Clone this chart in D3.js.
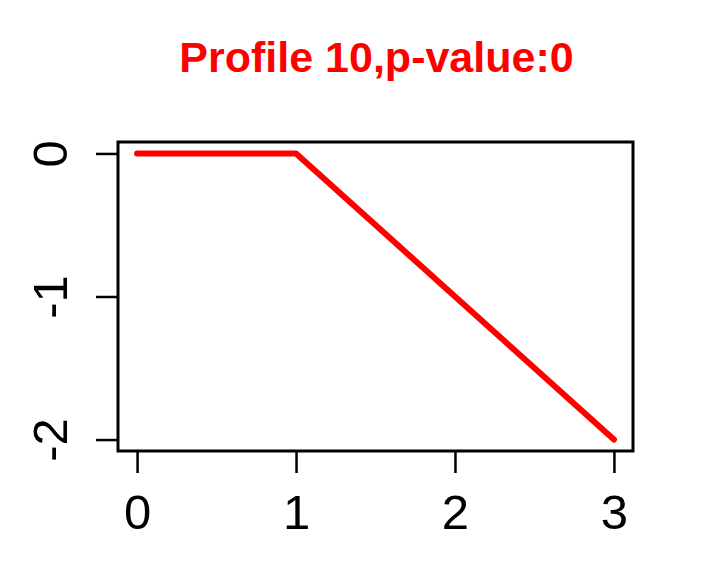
<!DOCTYPE html>
<html>
<head>
<meta charset="utf-8">
<script src="https://cdn.jsdelivr.net/npm/d3@7/dist/d3.min.js"></script>
<style>
  html, body { margin: 0; padding: 0; background: #ffffff; }
  svg { display: block; }
</style>
</head>
<body>
<script>
const titleText = "Profile 10,p-value:0";
const xValues = [0, 1, 2, 3];
const yValues = [0, 0, -1, -2];
const xTicks = [0, 1, 2, 3];
const yTicks = [0, -1, -2];

const W = 725, H = 567;
const box = { left: 118, right: 633, top: 142, bottom: 451 };

const svg = d3.select("body").append("svg")
  .attr("width", W).attr("height", H);

// R-style 4% padding of the data range
const xr = [0, 3], yr = [-2, 0];
const xpad = (xr[1] - xr[0]) * 0.04, ypad = (yr[1] - yr[0]) * 0.04;
const x = d3.scaleLinear().domain([xr[0] - xpad, xr[1] + xpad]).range([box.left, box.right]);
const y = d3.scaleLinear().domain([yr[0] - ypad, yr[1] + ypad]).range([box.bottom, box.top]);

const fmt = d => String(d);

// Title
svg.append("text")
  .attr("x", (box.left + box.right) / 2 + 1)
  .attr("y", 72)
  .attr("text-anchor", "middle")
  .attr("font-family", "Liberation Sans, Arial, Helvetica, sans-serif")
  .attr("font-weight", "bold")
  .attr("font-size", 43)
  .attr("fill", "#ff0000")
  .text(titleText);

// Line
const line = d3.line().x((d, i) => x(xValues[i])).y(d => y(d));
svg.append("path")
  .datum(yValues)
  .attr("d", line)
  .attr("fill", "none")
  .attr("stroke", "#ff0000")
  .attr("stroke-width", 6)
  .attr("stroke-linecap", "round")
  .attr("stroke-linejoin", "round");

// Box
svg.append("rect")
  .attr("x", box.left).attr("y", box.top)
  .attr("width", box.right - box.left).attr("height", box.bottom - box.top)
  .attr("fill", "none")
  .attr("stroke", "#000")
  .attr("stroke-width", 3);

// X axis
const xAxis = d3.axisBottom(x).tickValues(xTicks).tickSize(22).tickPadding(0).tickFormat(fmt);
const gx = svg.append("g").attr("transform", `translate(0,${box.bottom})`).call(xAxis);
gx.select(".domain").remove();
gx.selectAll(".tick line").attr("stroke", "#000").attr("stroke-width", 2.5);
gx.selectAll(".tick text")
  .attr("y", 78).attr("dy", null)
  .attr("font-family", "Liberation Sans, Arial, Helvetica, sans-serif")
  .attr("font-size", 49)
  .attr("fill", "#000");

// Y axis
const yAxis = d3.axisLeft(y).tickValues(yTicks).tickSize(22).tickPadding(0).tickFormat(fmt);
const gy = svg.append("g").attr("transform", `translate(${box.left},0)`).call(yAxis);
gy.select(".domain").remove();
gy.selectAll(".tick line").attr("stroke", "#000").attr("stroke-width", 2.5);
gy.selectAll(".tick text")
  .attr("x", null).attr("dy", null)
  .attr("text-anchor", "middle")
  .attr("transform", "translate(-51,0) rotate(-90)")
  .attr("font-family", "Liberation Sans, Arial, Helvetica, sans-serif")
  .attr("font-size", 49)
  .attr("fill", "#000");
gy.selectAll(".tick text").attr("y", 0);
</script>
</body>
</html>
